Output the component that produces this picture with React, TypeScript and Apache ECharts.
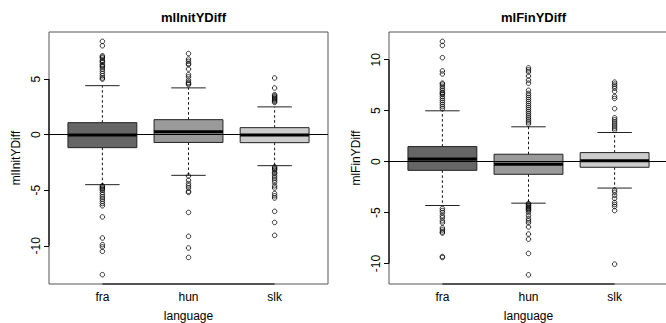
import React, { useEffect, useRef } from "react";
import * as echarts from "echarts";

const categories = ["fra", "hun", "slk"];
const yTicks = [-10, -5, 0, 5];
const yTicksFin = [-10, -5, 0, 5, 10];

// mlInitYDiff box statistics (per category: fra, hun, slk)
const initLow = [-4.5, -3.66, -2.79];
const initQ1 = [-1.17, -0.7, -0.72];
const initMedian = [-0.02, 0.27, -0.02];
const initQ3 = [1.08, 1.35, 0.63];
const initHigh = [4.41, 4.21, 2.5];

const initOutFra = [8.4, 8.0, 7.1, 7.0, 6.9, 6.7, 6.6, 6.5, 6.3, 6.2, 6.1, 5.9, 5.7, 5.5, 5.3, 5.1, 5.0,
  -4.6, -4.7, -4.8, -4.9, -5.0, -5.2, -5.4, -5.6, -5.8, -6.0, -6.2, -6.4, -7.4, -9.3, -9.9, -10.1, -10.5, -12.6];
const initOutHun = [7.3, 6.8, 6.6, 6.4, 6.3, 5.9, 5.4, 5.2, 4.9, 4.7, 4.6, 4.5,
  -3.72, -4.1, -4.4, -4.6, -4.8, -5.1, -5.2, -7.0, -9.15, -10.2, -11.05];
const initOutSlk = [5.1, 4.2, 3.6, 3.5, 3.4, 3.3, 3.2, 3.1, 3.0, 2.9,
  -2.9, -3.0, -3.1, -3.2, -3.4, -3.5, -3.7, -3.9, -4.1, -4.3, -4.6, -4.8, -5.3, -5.5, -5.7, -6.9, -7.9, -9.06];

// mlFinYDiff box statistics
const finLow = [-4.3, -4.07, -2.59];
const finQ1 = [-0.85, -1.24, -0.55];
const finMedian = [0.27, -0.26, 0.1];
const finQ3 = [1.48, 0.73, 0.89];
const finHigh = [4.99, 3.42, 2.86];

const finOutFra = [11.8, 11.4, 10.2, 8.9, 8.6, 7.7, 7.6, 7.4, 7.2, 7.0, 6.8, 6.7, 6.6, 6.4, 6.2, 6.0, 5.8, 5.6, 5.4, 5.2,
  -4.6, -4.8, -5.0, -5.3, -5.5, -5.8, -6.0, -6.5, -6.7, -6.9, -7.0, -9.3, -9.4];
const finOutHun = [9.2, 9.0, 8.8, 8.4, 8.0, 7.7, 7.0, 6.7, 6.5, 6.3, 6.1, 5.9, 5.7, 5.5, 5.3, 5.1, 4.9, 4.7, 4.5, 4.3, 4.1, 3.9, 3.7,
  -4.1, -4.2, -4.3, -4.4, -4.5, -4.6, -4.7, -4.8, -5.0, -5.3, -5.6, -5.8, -6.0, -6.4, -7.1, -7.6, -9.0, -11.1];
const finOutSlk = [7.8, 7.6, 7.4, 7.2, 6.9, 6.4, 6.2, 5.2, 4.3, 4.1, 3.9, 3.7, 3.5, 3.3, 3.1,
  -2.8, -3.0, -3.3, -3.6, -4.0, -4.2, -4.4, -4.8, -10.05];

const boxFill = ["#666666", "#9a9a9a", "#cccccc"];
const FONT = "'Liberation Sans', Arial, Helvetica, sans-serif";

const X_MIN = 0.38;
const X_MAX = 3.62;

function boxData(lo: number[], q1: number[], med: number[], q3: number[], hi: number[]) {
  return categories.map((_, i) => [i + 1, lo[i], q1[i], med[i], q3[i], hi[i]]);
}

function outlierData(lists: number[][]) {
  const out: number[][] = [];
  lists.forEach((l, i) => l.forEach((v) => out.push([i + 1, v])));
  return out;
}

function renderBox(params: any, api: any) {
  const x = api.value(0);
  const lo = api.value(1);
  const q1 = api.value(2);
  const med = api.value(3);
  const q3 = api.value(4);
  const hi = api.value(5);
  const tl = api.coord([x - 0.4, q3]);
  const br = api.coord([x + 0.4, q1]);
  const pQ3 = api.coord([x, q3]);
  const pHi = api.coord([x, hi]);
  const pQ1 = api.coord([x, q1]);
  const pLo = api.coord([x, lo]);
  const sHiL = api.coord([x - 0.2, hi]);
  const sHiR = api.coord([x + 0.2, hi]);
  const sLoL = api.coord([x - 0.2, lo]);
  const sLoR = api.coord([x + 0.2, lo]);
  const mL = api.coord([x - 0.4, med]);
  const mR = api.coord([x + 0.4, med]);
  const dash = { stroke: "#111", lineWidth: 1, lineDash: [2.5, 2.5] };
  const solid = { stroke: "#222", lineWidth: 1 };
  return {
    type: "group",
    children: [
      { type: "line", shape: { x1: pQ3[0], y1: pQ3[1], x2: pHi[0], y2: pHi[1] }, style: dash },
      { type: "line", shape: { x1: pQ1[0], y1: pQ1[1], x2: pLo[0], y2: pLo[1] }, style: dash },
      { type: "line", shape: { x1: sHiL[0], y1: sHiL[1], x2: sHiR[0], y2: sHiR[1] }, style: solid },
      { type: "line", shape: { x1: sLoL[0], y1: sLoL[1], x2: sLoR[0], y2: sLoR[1] }, style: solid },
      {
        type: "rect",
        shape: { x: tl[0], y: tl[1], width: br[0] - tl[0], height: br[1] - tl[1] },
        style: { fill: boxFill[params.dataIndex], stroke: "#222", lineWidth: 1 },
      },
      { type: "line", shape: { x1: mL[0], y1: mL[1], x2: mR[0], y2: mR[1] }, style: { stroke: "#000", lineWidth: 3 } },
    ],
  };
}

function makeAxisSegRenderer(yMin: number, yTickLo: number, yTickHi: number) {
  return (_params: any, api: any) => {
    const a = api.coord([1, yMin]);
    const b = api.coord([3, yMin]);
    const c = api.coord([X_MIN, yTickLo]);
    const d = api.coord([X_MIN, yTickHi]);
    return {
      type: "group",
      children: [
        { type: "line", shape: { x1: a[0], y1: a[1], x2: b[0], y2: b[1] }, style: { stroke: "#000", lineWidth: 1.2 } },
        { type: "line", shape: { x1: c[0], y1: c[1], x2: d[0], y2: d[1] }, style: { stroke: "#000", lineWidth: 1.2 } },
      ],
    };
  };
}

function xAxisCfg(gridIndex: number) {
  return {
    type: "value",
    gridIndex,
    min: X_MIN,
    max: X_MAX,
    name: "language",
    nameLocation: "middle",
    nameGap: 26,
    nameTextStyle: { color: "#000", fontSize: 12, fontFamily: FONT },
    splitLine: { show: false },
    axisLine: { show: false },
    axisTick: { show: true, customValues: [1, 2, 3], length: 5, lineStyle: { color: "#000" } },
    axisLabel: {
      customValues: [1, 2, 3],
      formatter: (v: number) => categories[Math.round(v) - 1] ?? "",
      color: "#000",
      fontSize: 12,
      fontFamily: FONT,
      margin: 7,
    },
  };
}

function yAxisCfg(gridIndex: number, min: number, max: number, ticks: number[], name: string) {
  return {
    type: "value",
    gridIndex,
    min,
    max,
    name,
    nameLocation: "middle",
    nameGap: 27,
    nameRotate: 90,
    nameTextStyle: { color: "#000", fontSize: 12, fontFamily: FONT },
    splitLine: { show: false },
    axisLine: { show: false },
    axisTick: { show: true, customValues: ticks, length: 5, lineStyle: { color: "#000" } },
    axisLabel: {
      customValues: ticks,
      rotate: 90,
      color: "#000",
      fontSize: 12,
      fontFamily: FONT,
      margin: 7,
    },
  };
}

export default function App() {
  const ref = useRef<HTMLDivElement>(null);
  useEffect(() => {
    if (!ref.current) return;
    const chart = echarts.init(ref.current, undefined, { renderer: "svg" });
    const initMin = -13.44, initMax = 9.24;
    const finMin = -12.0, finMax = 12.72;
    const zeroLine = {
      silent: true,
      symbol: "none",
      label: { show: false },
      lineStyle: { color: "#000", type: "solid", width: 1.2 },
      data: [{ yAxis: 0 }],
    };
    chart.setOption({
      animation: false,
      backgroundColor: "#fff",
      title: [
        { text: "mlInitYDiff", left: 188.5, top: 6, textAlign: "center",
          textStyle: { fontSize: 13, fontWeight: "bold", color: "#000", fontFamily: FONT } },
        { text: "mlFinYDiff", left: 528.5, top: 6, textAlign: "center",
          textStyle: { fontSize: 13, fontWeight: "bold", color: "#000", fontFamily: FONT } },
      ],
      grid: [
        { left: 49, top: 32, width: 279, height: 252, show: true, borderColor: "#555", borderWidth: 1,
          backgroundColor: "transparent", containLabel: false, outerBoundsMode: "none" },
        { left: 389, top: 32, width: 279, height: 252, show: true, borderColor: "#555", borderWidth: 1,
          backgroundColor: "transparent", containLabel: false, outerBoundsMode: "none" },
      ],
      xAxis: [xAxisCfg(0), xAxisCfg(1)],
      yAxis: [
        yAxisCfg(0, initMin, initMax, yTicks, "mlInitYDiff"),
        yAxisCfg(1, finMin, finMax, yTicksFin, "mlFinYDiff"),
      ],
      series: [
        {
          type: "custom", xAxisIndex: 0, yAxisIndex: 0, z: 2,
          renderItem: renderBox,
          encode: { x: 0, y: [1, 2, 3, 4, 5] },
          data: boxData(initLow, initQ1, initMedian, initQ3, initHigh),
        },
        {
          type: "scatter", xAxisIndex: 0, yAxisIndex: 0, z: 3,
          symbol: "circle", symbolSize: 4.5,
          itemStyle: { color: "rgba(0,0,0,0)", borderColor: "#000", borderWidth: 1 },
          data: outlierData([initOutFra, initOutHun, initOutSlk]),
          markLine: zeroLine,
        },
        {
          type: "custom", xAxisIndex: 0, yAxisIndex: 0, z: 4, clip: false,
          renderItem: makeAxisSegRenderer(initMin, yTicks[0], yTicks[yTicks.length - 1]),
          data: [[1, 0]],
        },
        {
          type: "custom", xAxisIndex: 1, yAxisIndex: 1, z: 2,
          renderItem: renderBox,
          encode: { x: 0, y: [1, 2, 3, 4, 5] },
          data: boxData(finLow, finQ1, finMedian, finQ3, finHigh),
        },
        {
          type: "scatter", xAxisIndex: 1, yAxisIndex: 1, z: 3,
          symbol: "circle", symbolSize: 4.5,
          itemStyle: { color: "rgba(0,0,0,0)", borderColor: "#000", borderWidth: 1 },
          data: outlierData([finOutFra, finOutHun, finOutSlk]),
          markLine: zeroLine,
        },
        {
          type: "custom", xAxisIndex: 1, yAxisIndex: 1, z: 4, clip: false,
          renderItem: makeAxisSegRenderer(finMin, yTicksFin[0], yTicksFin[yTicksFin.length - 1]),
          data: [[1, 0]],
        },
      ],
    });
    return () => chart.dispose();
  }, []);
  return (
    <div
      ref={ref}
      style={{ position: "fixed", left: 0, top: 0, width: 666, height: 323, background: "#fff" }}
    />
  );
}
